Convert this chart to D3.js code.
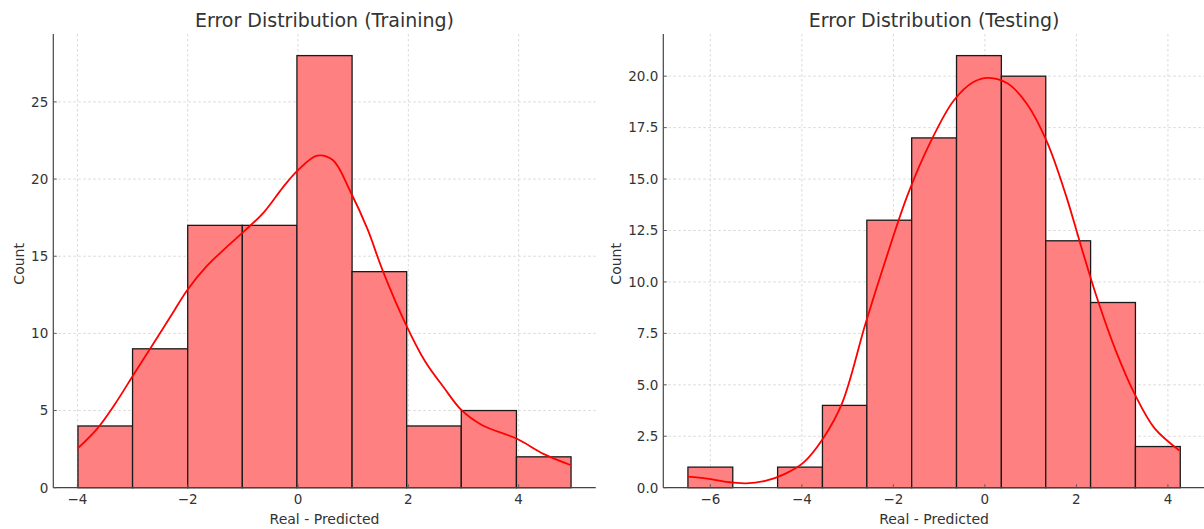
<!DOCTYPE html>
<html>
<head>
<meta charset="utf-8">
<script src="https://cdn.jsdelivr.net/npm/d3@7"></script>
<style>
  body { margin: 0; background: #fff; }
  svg { display: block; font-family: "DejaVu Sans", sans-serif; }
  .grid line { stroke: #cfcfcf; stroke-width: 0.8; stroke-dasharray: 2.5, 2.5; }
  .tick-label { fill: #333; font-size: 13.5px; }
</style>
</head>
<body>
<svg id="chart" width="1204" height="529"></svg>
<script>
// Training histogram
const trainEdges = [-3.99, -3.0, -2.0, -1.01, -0.02, 0.98, 1.97, 2.96, 3.96, 4.95];
const trainCounts = [4, 9, 17, 17, 28, 14, 4, 5, 2];
const trainKdeX = [-3.99, -3.64, -3.33, -2.98, -2.63, -2.28, -2.01, -1.66, -1.31, -0.97, -0.62, -0.27, 0.0, 0.35, 0.63, 0.94, 1.26, 1.53, 1.95, 2.3, 2.65, 2.96, 3.34, 3.97, 4.45, 4.94];
const trainKdeY = [2.56, 3.83, 5.36, 7.33, 9.3, 11.27, 12.8, 14.34, 15.54, 16.64, 17.84, 19.48, 20.58, 21.52, 21.23, 19.26, 16.75, 14.12, 10.62, 8.21, 6.46, 5.04, 4.05, 3.17, 2.19, 1.47];
const trainXTicks = [-4, -2, 0, 2, 4];
const trainYTicks = [0, 5, 10, 15, 20, 25];

// Testing histogram
const testEdges = [-6.49, -5.51, -4.53, -3.55, -2.58, -1.6, -0.62, 0.36, 1.33, 2.31, 3.29, 4.27];
const testCounts = [1, 0, 1, 4, 13, 17, 21, 20, 12, 9, 2];
const testKdeX = [-6.49, -6.07, -5.65, -5.22, -4.8, -4.38, -3.96, -3.54, -3.12, -2.61, -2.19, -1.69, -1.18, -0.68, -0.25, 0.08, 0.5, 0.92, 1.35, 1.77, 2.1, 2.44, 2.86, 3.28, 3.71, 4.25];
const testKdeY = [0.54, 0.44, 0.28, 0.21, 0.33, 0.66, 1.23, 2.38, 4.11, 7.97, 10.93, 14.22, 16.84, 18.82, 19.72, 19.92, 19.64, 18.65, 16.84, 14.22, 11.75, 9.29, 6.66, 4.52, 2.88, 1.81];
const testXTicks = [-6, -4, -2, 0, 2, 4];
const testYTicks = [0, 2.5, 5, 7.5, 10, 12.5, 15, 17.5, 20];

const svg = d3.select("#chart");
const plotTop = 34;
const plotBottom = 487.7;

function drawPanel(opts) {
  const lo = opts.edges[0];
  const hi = opts.edges[opts.edges.length - 1];
  const pad = (hi - lo) * 0.05;

  const x = d3.scaleLinear().domain([lo - pad, hi + pad]).range([opts.left, opts.right]);
  const y = d3.scaleLinear().domain([0, d3.max(opts.counts) * 1.05]).range([plotBottom, plotTop]);

  const g = svg.append("g");

  // grid
  const grid = g.append("g").attr("class", "grid");
  grid.selectAll(".gx")
    .data(opts.xTicks)
    .enter()
    .append("line")
    .attr("x1", (d) => x(d))
    .attr("x2", (d) => x(d))
    .attr("y1", plotTop)
    .attr("y2", plotBottom);
  grid.selectAll(".gy")
    .data(opts.yTicks)
    .enter()
    .append("line")
    .attr("x1", opts.left)
    .attr("x2", opts.right)
    .attr("y1", (d) => y(d))
    .attr("y2", (d) => y(d));

  // bars
  const bins = opts.counts.map((c, i) => ({ x0: opts.edges[i], x1: opts.edges[i + 1], count: c }));
  g.selectAll(".bar")
    .data(bins.filter((d) => d.count > 0))
    .enter()
    .append("rect")
    .attr("class", "bar")
    .attr("x", (d) => x(d.x0))
    .attr("width", (d) => x(d.x1) - x(d.x0))
    .attr("y", (d) => y(d.count))
    .attr("height", (d) => y(0) - y(d.count))
    .attr("fill", "#ff8080")
    .attr("stroke", "#1a1a1a")
    .attr("stroke-width", 1.3);

  // kde line
  const pts = opts.kdeX.map((v, i) => [v, opts.kdeY[i]]);
  g.append("path")
    .datum(pts)
    .attr("fill", "none")
    .attr("stroke", "#ff0000")
    .attr("stroke-width", 1.8)
    .attr(
      "d",
      d3.line()
        .x((d) => x(d[0]))
        .y((d) => y(d[1]))
        .curve(d3.curveCatmullRom.alpha(0.5))
    );

  // spines
  g.append("line")
    .attr("x1", opts.left).attr("x2", opts.left)
    .attr("y1", plotTop).attr("y2", plotBottom)
    .attr("stroke", "#444").attr("stroke-width", 1.2);
  g.append("line")
    .attr("x1", opts.left).attr("x2", opts.right)
    .attr("y1", plotBottom).attr("y2", plotBottom)
    .attr("stroke", "#444").attr("stroke-width", 1.2);

  // x ticks
  const fmtX = (d) => d3.format("d")(d).replace("-", "\u2212");
  g.selectAll(".xt")
    .data(opts.xTicks)
    .enter()
    .append("line")
    .attr("x1", (d) => x(d)).attr("x2", (d) => x(d))
    .attr("y1", plotBottom).attr("y2", plotBottom - 3.5)
    .attr("stroke", "#555").attr("stroke-width", 0.9);
  g.selectAll(".xl")
    .data(opts.xTicks)
    .enter()
    .append("text")
    .attr("class", "tick-label")
    .attr("x", (d) => x(d))
    .attr("y", 503.5)
    .attr("text-anchor", "middle")
    .text(fmtX);

  // y ticks
  g.selectAll(".yt")
    .data(opts.yTicks)
    .enter()
    .append("line")
    .attr("x1", opts.left).attr("x2", opts.left + 3.5)
    .attr("y1", (d) => y(d)).attr("y2", (d) => y(d))
    .attr("stroke", "#555").attr("stroke-width", 0.9);
  g.selectAll(".yl")
    .data(opts.yTicks)
    .enter()
    .append("text")
    .attr("class", "tick-label")
    .attr("x", opts.left - 5)
    .attr("y", (d) => y(d))
    .attr("dy", "0.36em")
    .attr("text-anchor", "end")
    .text((d) => d3.format(opts.yFormat)(d));

  // titles
  const cx = (opts.left + opts.right) / 2;
  g.append("text")
    .attr("x", cx)
    .attr("y", 27)
    .attr("text-anchor", "middle")
    .attr("fill", "#333")
    .style("font-size", "19px")
    .text(opts.title);
  g.append("text")
    .attr("x", cx)
    .attr("y", 524)
    .attr("text-anchor", "middle")
    .attr("fill", "#333")
    .style("font-size", "14px")
    .text("Real - Predicted");
  g.append("text")
    .attr("transform", `translate(${opts.countX},${(plotTop + plotBottom) / 2 + 3}) rotate(-90)`)
    .attr("text-anchor", "middle")
    .attr("fill", "#333")
    .style("font-size", "14px")
    .text("Count");
}

drawPanel({
  edges: trainEdges, counts: trainCounts, kdeX: trainKdeX, kdeY: trainKdeY,
  xTicks: trainXTicks, yTicks: trainYTicks, yFormat: "d",
  left: 53.3, right: 595.7, countX: 24, title: "Error Distribution (Training)"
});

drawPanel({
  edges: testEdges, counts: testCounts, kdeX: testKdeX, kdeY: testKdeY,
  xTicks: testXTicks, yTicks: testYTicks, yFormat: ".1f",
  left: 663.3, right: 1204.9, countX: 621, title: "Error Distribution (Testing)"
});
</script>
</body>
</html>
